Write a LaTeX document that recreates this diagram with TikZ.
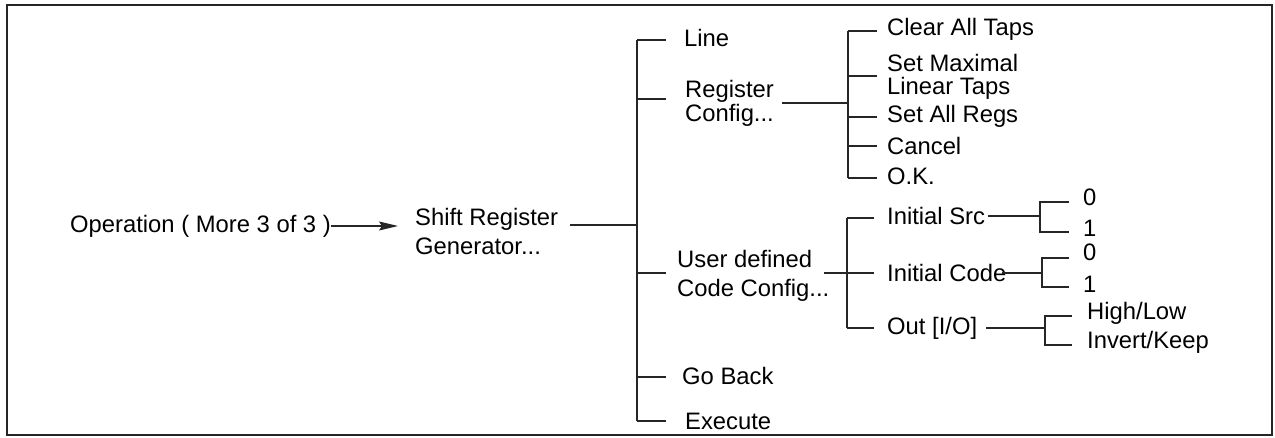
\documentclass[tikz,border=0pt]{standalone}
\usepackage{fontspec}
\setmainfont{Liberation Sans}
\usetikzlibrary{arrows.meta}

\begin{document}
\begin{tikzpicture}[x=1pt, y=-1pt, line join=miter,
    item/.style={anchor=west, inner sep=0pt, align=left,
      font=\fontsize{23.8}{27}\selectfont},
    wire/.style={draw=black!85, line width=1.1pt}]
  \useasboundingbox (0,0) rectangle (1275,438);
  \draw[line width=2.6pt, black!85] (7,5) rectangle (1272,435);

  % start of the menu path
  \node[item] (op) at (70,226) {Operation ( More 3 of 3 )};
  \node[item] (srg) at (415,231) {Shift Register\\[2pt]Generator...};
  \draw[wire, -{Stealth[length=19pt, width=9pt, inset=3pt]}, shorten >=17pt]
    (op.east) -- (op.east -| srg.west);

  % main trunk
  \coordinate (ttop) at (637,40);
  \coordinate (tbot) at (637,421);
  \coordinate (tmid) at (637,225);
  \draw[wire] (ttop) -- (tbot);
  \draw[wire, shorten <=12pt] (srg.east |- tmid) -- (tmid);

  \node[item] (line) at (684,38) {Line};
  \node[item] (regcfg) at (685,103) {Register\\[-3pt]Config...};
  \node[item] (usrcfg) at (677,276) {User defined\\[2pt]Code Config...};
  \node[item] (goback) at (682,376) {Go Back};
  \node[item] (exec) at (685,421) {Execute};
  \foreach \yy in {40,99,273,377,421}
    \draw[wire] (637,\yy) -- (666,\yy);

  % register config sub menu
  \coordinate (rtop) at (848,31);
  \coordinate (rbot) at (848,178);
  \draw[wire] (rtop) -- (rbot);
  \draw[wire] (782,103) -- (848,103);
  \foreach \yy in {31,76,117,146,178}
    \draw[wire] (848,\yy) -- (877,\yy);
  \node[item] (clear) at (887,29) {Clear All Taps};
  \node[item] (setmax) at (887,77) {Set Maximal\\[-4pt]Linear Taps};
  \node[item] (setall) at (887,116) {Set All Regs};
  \node[item] (cancel) at (887,146) {Cancel};
  \node[item] (ok) at (887,176) {O.K.};

  % user defined code config sub menu
  \coordinate (utop) at (847,218);
  \coordinate (ubot) at (847,328);
  \draw[wire] (utop) -- (ubot);
  \draw[wire] (824,273) -- (847,273);
  \foreach \yy in {218,273,328}
    \draw[wire] (847,\yy) -- (874,\yy);
  \node[item] (src) at (887,216) {Initial Src};
  \node[item] (code) at (887,273) {Initial Code};
  \node[item] (out) at (887,328) {Out [I/O]};

  % value brackets
  \coordinate (sbr) at (1040,216);
  \coordinate (cbr) at (1042,273);
  \coordinate (obr) at (1045,328);
  \draw[wire, shorten <=3pt] (src.east) -- (sbr);
  \draw[wire, shorten <=-4pt] (code.east) -- (cbr);
  \draw[wire, shorten <=9pt] (out.east) -- (obr);
  \draw[wire] (1069,202) -| (1040,232) -- (1069,232);
  \draw[wire] (1069,258) -| (1042,287) -- (1069,287);
  \draw[wire] (1072,316) -| (1045,345) -- (1072,345);
  \node[item] (s0) at (1083,197) {0};
  \node[item] (s1) at (1083,228) {1};
  \node[item] (c0) at (1083,252) {0};
  \node[item] (c1) at (1083,284) {1};
  \node[item] (hilo) at (1087,313) {High/Low};
  \node[item] (inv) at (1087,342) {Invert/Keep};
\end{tikzpicture}
\end{document}
